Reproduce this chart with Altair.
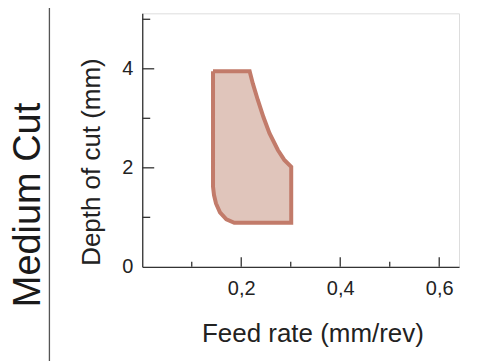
import altair as alt
import pandas as pd

# Region outline (feed rate mm/rev, depth of cut mm)
shape_x = [0.143, 0.217, 0.2235, 0.2335, 0.245, 0.257, 0.274, 0.287, 0.301,
           0.301, 0.186, 0.170, 0.157, 0.149, 0.145, 0.143, 0.143]
shape_y = [3.95, 3.95, 3.70, 3.37, 3.02, 2.70, 2.36, 2.16, 2.02,
           0.89, 0.89, 0.96, 1.10, 1.28, 1.45, 1.62, 3.95]

x_major = [0.2, 0.4, 0.6]
x_minor = [0.1, 0.3, 0.5]
y_major = [2, 4]
y_minor = [1, 3, 5]

x_domain = [0, 0.64]
y_domain = [0, 5.12]

W, H = 317.4, 254
AXIS = "#333333"

shape = pd.DataFrame({"x": shape_x, "y": shape_y, "i": range(len(shape_x))})

xs = alt.Scale(domain=x_domain, nice=False, zero=False)
ys = alt.Scale(domain=y_domain, nice=False, zero=False)

fmt = "replace(format(datum.value, '.1f'), '.', ',')"

base_axes = alt.Chart(pd.DataFrame({"x": [0.0], "y": [0.0]})).mark_point(opacity=0).encode(
    x=alt.X("x:Q", scale=xs, axis=alt.Axis(
        values=x_major, labelExpr=fmt, ticks=False, tickSize=0, grid=False,
        domainColor=AXIS, domainWidth=1.3, labelColor="#222", labelFontSize=20,
        labelFont="Liberation Sans", labelBaseline="alphabetic", labelPadding=28,
        title="Feed rate (mm/rev)", titleFont="Liberation Sans", titleFontSize=26,
        titleFontWeight="normal", titleColor="#222", titleX=170.5, titleY=75,
        titleAlign="center", titleBaseline="alphabetic")),
    y=alt.Y("y:Q", scale=ys, axis=alt.Axis(
        values=[0, 2, 4], ticks=False, tickSize=0, grid=False,
        domainColor=AXIS, domainWidth=1.3, labelColor="#222", labelFontSize=20,
        labelFont="Liberation Sans", labelPadding=9.5,
        title="Depth of cut (mm)", titleFont="Liberation Sans", titleFontSize=26,
        titleFontWeight="normal", titleColor="#222", titleAngle=270,
        titleX=-42.5, titleY=148.5, titleAlign="center", titleBaseline="alphabetic")),
)

xmaj = alt.Chart(pd.DataFrame({"v": x_major})).mark_rule(color=AXIS, strokeWidth=1.3).encode(
    x=alt.X("v:Q", scale=xs), y=alt.value(H), y2=alt.value(H - 9.5))
xmin = alt.Chart(pd.DataFrame({"v": x_minor})).mark_rule(color=AXIS, strokeWidth=1.3).encode(
    x=alt.X("v:Q", scale=xs), y=alt.value(H), y2=alt.value(H - 5))
ymaj = alt.Chart(pd.DataFrame({"v": y_major})).mark_rule(color=AXIS, strokeWidth=1.3).encode(
    y=alt.Y("v:Q", scale=ys), x=alt.value(0), x2=alt.value(12))
ymin = alt.Chart(pd.DataFrame({"v": y_minor})).mark_rule(color=AXIS, strokeWidth=1.3).encode(
    y=alt.Y("v:Q", scale=ys), x=alt.value(0), x2=alt.value(8))

poly = alt.Chart(shape).mark_line(
    fill="#e0c5bb", stroke="#c27b6a", strokeWidth=4, strokeJoin="miter",
    interpolate="linear").encode(
    x=alt.X("x:Q", scale=xs), y=alt.Y("y:Q", scale=ys), order="i:Q")

sep = alt.Chart(pd.DataFrame({"a": [0]})).mark_rule(color="#555555", strokeWidth=1.3).encode(
    x=alt.value(-93), y=alt.value(-20), y2=alt.value(360))

label = alt.Chart(pd.DataFrame({"t": ["Medium Cut"]})).mark_text(
    angle=270, font="Liberation Sans", fontSize=38, color="#1a1a1a",
    align="center", baseline="alphabetic").encode(
    text="t:N", x=alt.value(40 - 142.5), y=alt.value(205 - 13))

chart = alt.layer(base_axes, poly, xmaj, xmin, ymaj, ymin, sep, label).properties(
    width=W, height=H,
    autosize=alt.AutoSizeParams(type="none"),
    padding={"left": 134.5, "top": 5, "right": 10, "bottom": 100},
).configure_view(stroke=None).configure(background="white")

chart.save("out.html", embed_options={"renderer": "svg", "actions": False})
